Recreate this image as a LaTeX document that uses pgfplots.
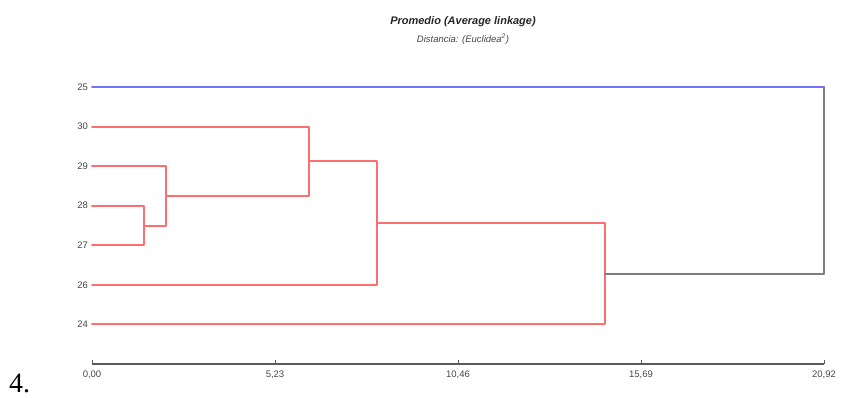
\documentclass[border=0pt]{standalone}
\usepackage{fontspec}
\setmainfont{Liberation Sans}
\newfontfamily\serifnum{Liberation Serif}
\usepackage{pgfplots}
\pgfplotsset{compat=1.18}

\definecolor{linkred}{RGB}{255,110,110}
\definecolor{linkblue}{RGB}{115,115,255}
\definecolor{linkgray}{RGB}{125,125,125}
\definecolor{axisgray}{RGB}{90,90,90}
\definecolor{labgray}{RGB}{70,70,70}

\begin{document}
\begin{tikzpicture}
\useasboundingbox (0pt,0pt) rectangle (847pt,397pt);

% titles
\node[font=\fontsize{11}{13}\selectfont\bfseries\itshape, text=black!85] at (463pt,375pt) {Promedio (Average linkage)};
\node[font=\fontsize{9.5}{11}\selectfont\itshape, text=labgray] at (463pt,358pt) {Distancia: (Euclidea\textsuperscript{2})};

% item number
\node[font=\serifnum\fontsize{28}{28}\selectfont, anchor=base west, inner sep=0pt] at (9pt,5pt) {4.};

\begin{axis}[
  at={(92pt,33pt)}, anchor=south west,
  scale only axis, width=732pt, height=277pt,
  xmin=0, xmax=20.92, ymin=0, ymax=7,
  axis x line*=bottom, axis y line*=left,
  x axis line style={axisgray, line width=1.2pt, -},
  y axis line style={draw=none},
  xtick={0,5.23,10.46,15.69,20.92},
  xticklabels={{0,00},{5,23},{10,46},{15,69},{20,92}},
  xtick style={axisgray, line width=0.9pt},
  tick align=inside, major tick length=4pt,
  ytick={1,2,3,4,5,6,7},
  yticklabels={24,26,27,28,29,30,25},
  ytick style={draw=none},
  tick label style={font=\fontsize{9.5}{11}\selectfont, text=labgray},
  yticklabel style={xshift=-0.5pt},
  xticklabel style={yshift=-3pt},
  clip=false,
  every axis plot/.append style={line width=2pt, line join=round, line cap=round},
]
% red cluster
\addplot[linkred] coordinates {(0,4) (1.49,4) (1.49,3) (0,3)};
\addplot[linkred] coordinates {(0,5) (2.11,5) (2.11,3.5) (1.49,3.5)};
\addplot[linkred] coordinates {(0,6) (6.21,6) (6.21,4.25) (2.11,4.25)};
\addplot[linkred] coordinates {(6.21,5.125) (8.14,5.125) (8.14,2) (0,2)};
\addplot[linkred] coordinates {(8.14,3.5625) (14.66,3.5625) (14.66,1) (0,1)};
% singleton 25
\addplot[linkblue] coordinates {(0,7) (20.92,7)};
% top link
\addplot[linkgray] coordinates {(14.66,2.28125) (20.92,2.28125) (20.92,7)};
\end{axis}
\end{tikzpicture}
\end{document}
